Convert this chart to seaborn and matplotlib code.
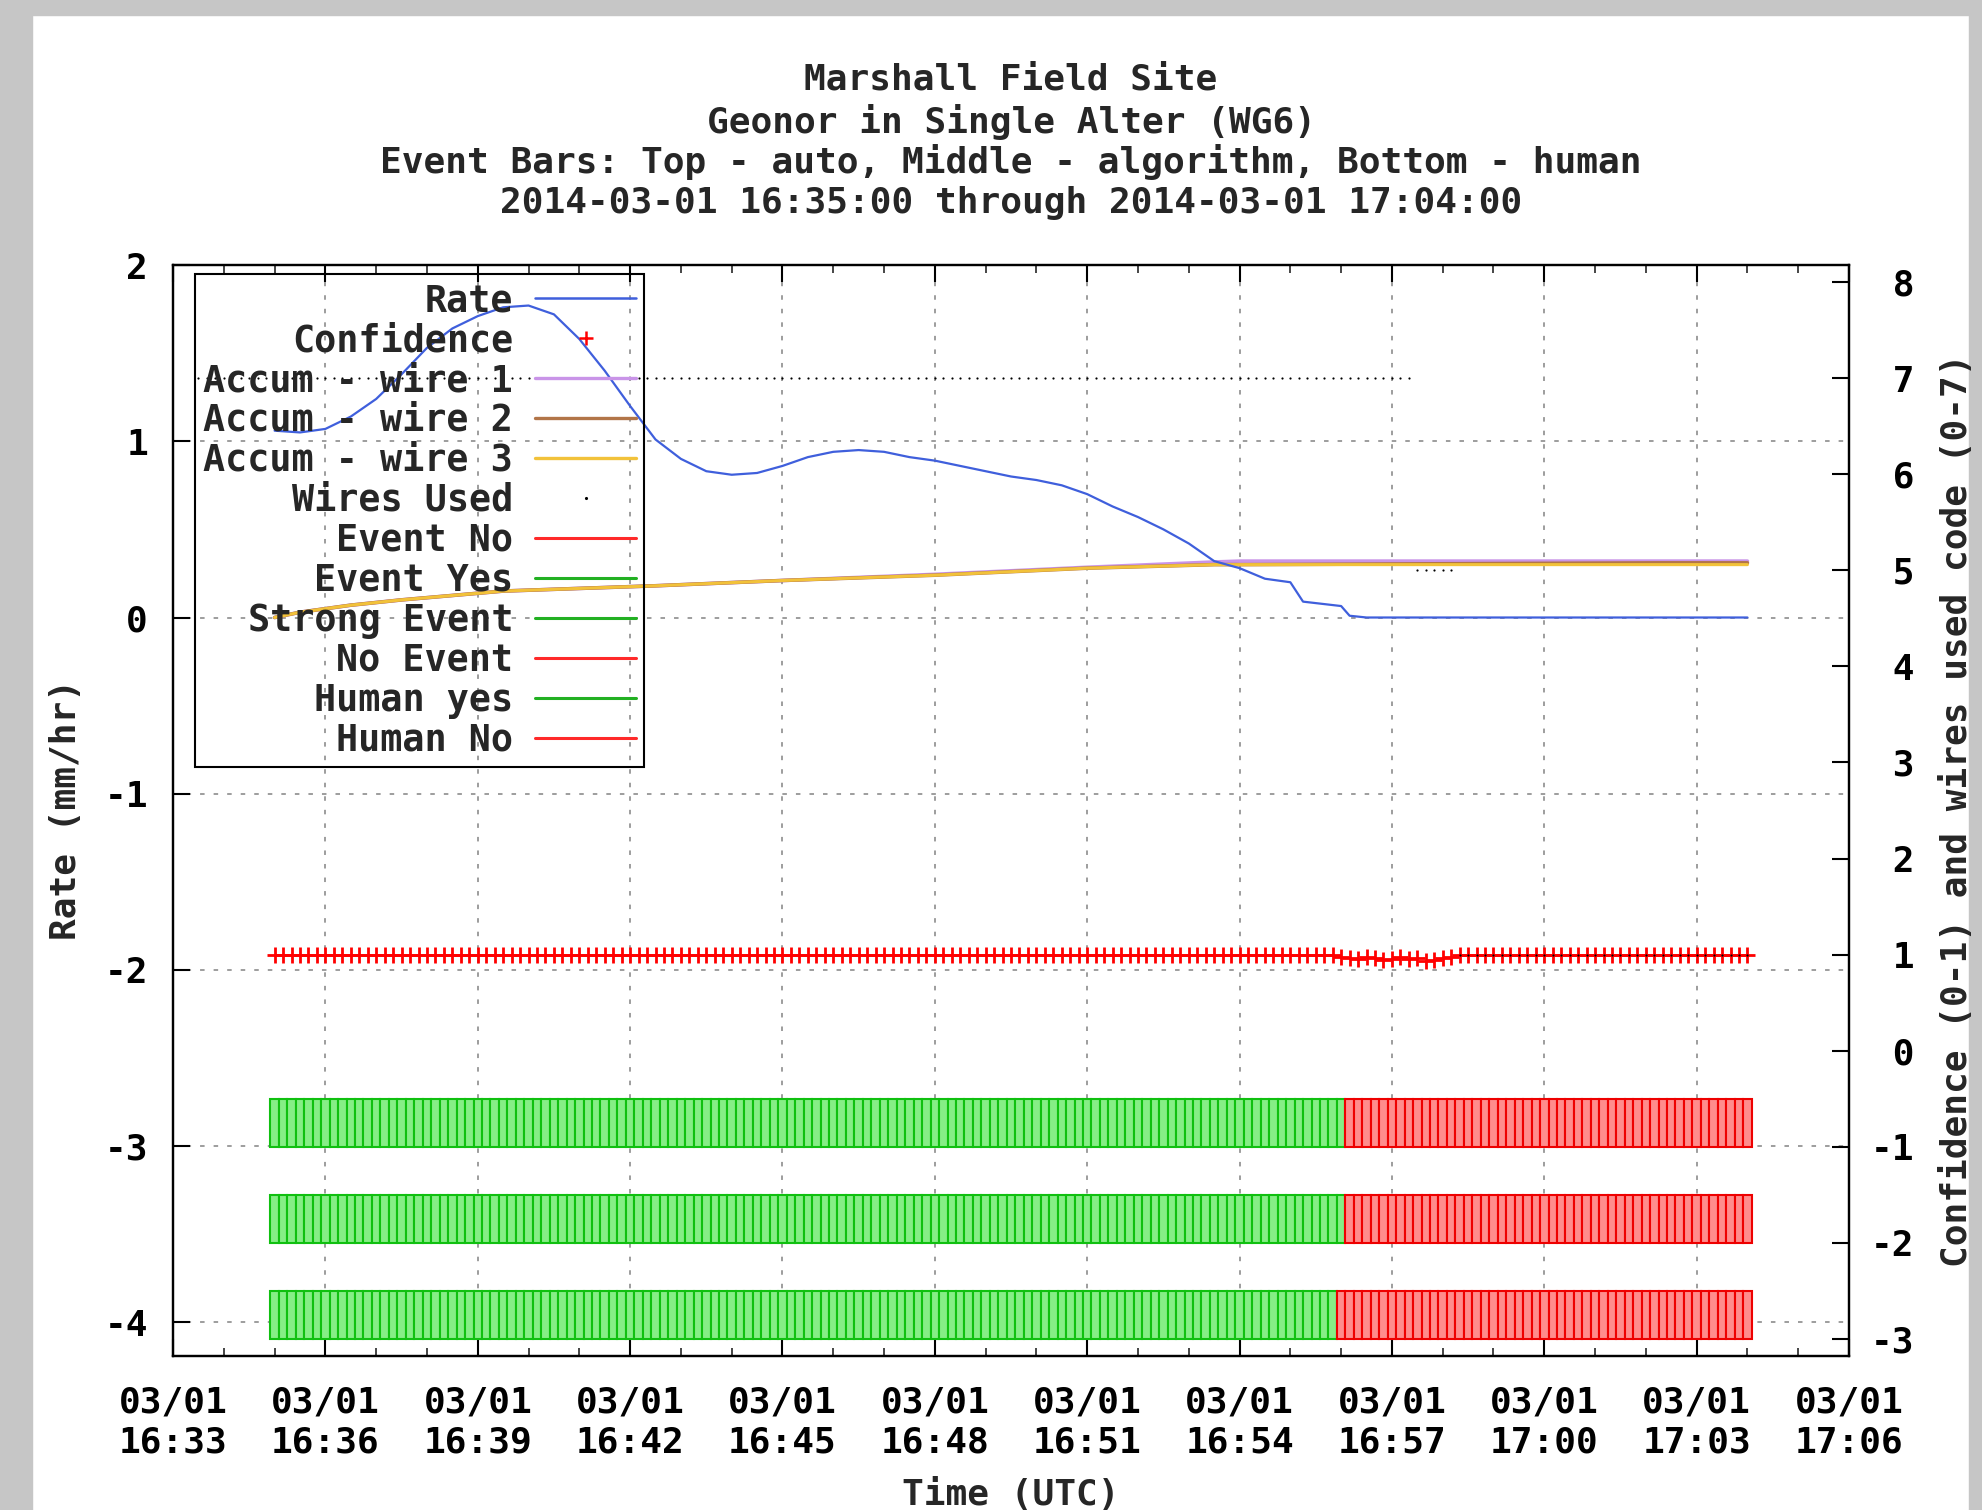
import numpy as np
import pandas as pd
import matplotlib
matplotlib.use("Agg")
import matplotlib.pyplot as plt
import matplotlib.dates as mdates
from matplotlib.lines import Line2D
from matplotlib.patches import Rectangle
import seaborn as sns

DAY = "2014-03-01 "

# ---------------- data ----------------
title_lines = [
    "Marshall Field Site",
    "Geonor in Single Alter (WG6)",
    "Event Bars: Top - auto, Middle - algorithm, Bottom - human",
    "2014-03-01 16:35:00 through 2014-03-01 17:04:00",
]

rate_times = ["16:35:00", "16:35:30", "16:36:00", "16:36:30", "16:37:00", "16:37:30",
              "16:38:00", "16:38:30", "16:39:00", "16:39:30", "16:40:00", "16:40:30",
              "16:41:00", "16:41:30", "16:42:00", "16:42:30", "16:43:00", "16:43:30",
              "16:44:00", "16:44:30", "16:45:00", "16:45:30", "16:46:00", "16:46:30",
              "16:47:00", "16:47:30", "16:48:00", "16:48:30", "16:49:00", "16:49:30",
              "16:50:00", "16:50:30", "16:51:00", "16:51:30", "16:52:00", "16:52:30",
              "16:53:00", "16:53:30", "16:54:00", "16:54:30", "16:55:00", "16:55:15",
              "16:56:00", "16:56:10", "16:56:30", "17:04:00"]
rate_values = [1.06, 1.05, 1.07, 1.14, 1.24, 1.38,
               1.53, 1.64, 1.71, 1.76, 1.77, 1.72,
               1.58, 1.40, 1.20, 1.01, 0.90, 0.83,
               0.81, 0.82, 0.86, 0.91, 0.94, 0.95,
               0.94, 0.91, 0.89, 0.86, 0.83, 0.80,
               0.78, 0.75, 0.70, 0.63, 0.57, 0.50,
               0.42, 0.32, 0.28, 0.22, 0.20, 0.09,
               0.065, 0.01, 0.0, 0.0]

accum_times = ["16:35:00", "16:35:30", "16:36:30", "16:37:30", "16:39:30", "16:42:30",
               "16:45:00", "16:48:00", "16:51:00", "16:53:30", "16:54:00", "17:02:20",
               "17:04:00"]
accum_wire1 = [0.00, 0.03, 0.07, 0.10, 0.15, 0.18, 0.21, 0.245, 0.285, 0.315, 0.32, 0.32, 0.32]
accum_wire2 = [0.00, 0.03, 0.07, 0.10, 0.15, 0.18, 0.21, 0.24, 0.28, 0.30, 0.30, 0.31, 0.31]
accum_wire3 = [0.00, 0.03, 0.07, 0.10, 0.15, 0.18, 0.21, 0.24, 0.28, 0.30, 0.30, 0.30, 0.30]

# confidence every 10 s from 16:35:00 to 17:04:00
conf_start, conf_end = "16:35:00", "17:04:00"
confidence = ([1.0] * 126
              + [0.97, 0.96, 0.95, 0.97, 0.96, 0.94, 0.95, 0.97, 0.95, 0.96, 0.93, 0.94, 0.96, 0.97]
              + [1.0] * 35)

# wires used code every 10 s from 16:33:30 to 17:04:00
wires_start, wires_end = "16:33:30", "17:04:00"
wires_used = [7] * 144 + [5] * 5 + [1] * 35

# event bars every 10 s from 16:35:00 to 17:04:00 (runs of yes / no)
bar_start, bar_end = "16:35:00", "17:04:00"
auto_runs = [("yes", 127), ("no", 48)]
algo_runs = [("yes", 127), ("no", 48)]
human_runs = [("yes", 126), ("no", 49)]
bar_rows = [(-1.0, auto_runs), (-2.0, algo_runs), (-3.0, human_runs)]

legend_labels = ["Rate", "Confidence", "Accum - wire 1", "Accum - wire 2", "Accum - wire 3",
                 "Wires Used", "Event No", "Event Yes", "Strong Event", "No Event",
                 "Human yes", "Human No"]

# ---------------- styling ----------------
sns.set_theme(style="white")
plt.rcParams['font.family'] = ['DejaVu Sans Mono', 'DejaVu Sans']
plt.rcParams['font.weight'] = 'bold'
plt.rcParams['font.size'] = 26
plt.rcParams['axes.unicode_minus'] = False

FS = 26
rate_color = "#3f5fdc"
wire1_color = "#c994e8"
wire2_color = "#b27548"
wire3_color = "#f2c23a"
conf_color = "#ff0000"
leg_red = "#ff2a2a"
leg_green = "#22b022"
green_face, green_edge = "#86ee86", "#10c010"
red_face, red_edge = "#ff8c8c", "#ee0000"

fig = plt.figure(figsize=(19.82, 15.10), dpi=100)
fig.patch.set_facecolor("white")
ax = fig.add_axes([0.0873, 0.1020, 0.8456, 0.7225])
ax2 = ax.twinx()

# grey screenshot border
for (x0, y0, w, h) in [(0, 0, 32 / 1982, 1), (0, 1 - 15 / 1510, 1, 15 / 1510),
                       (1969 / 1982, 0, 13 / 1982, 1)]:
    fig.patches.append(Rectangle((x0, y0), w, h, transform=fig.transFigure,
                                 color="#c6c6c6", zorder=-10))

# ----- left axis: rate and accumulations -----
df_rate = pd.DataFrame({"time": pd.to_datetime([DAY + t for t in rate_times]),
                        "rate": rate_values})
df_acc = pd.DataFrame({"time": pd.to_datetime([DAY + t for t in accum_times]),
                       "w1": accum_wire1, "w2": accum_wire2, "w3": accum_wire3})

sns.lineplot(data=df_acc, x="time", y="w1", ax=ax, color=wire1_color, lw=2.6,
             estimator=None, legend=False, zorder=3)
sns.lineplot(data=df_acc, x="time", y="w2", ax=ax, color=wire2_color, lw=2.6,
             estimator=None, legend=False, zorder=4)
sns.lineplot(data=df_acc, x="time", y="w3", ax=ax, color=wire3_color, lw=2.2,
             estimator=None, legend=False, zorder=5)
sns.lineplot(data=df_rate, x="time", y="rate", ax=ax, color=rate_color, lw=1.6,
             estimator=None, legend=False, zorder=6)

# ----- right axis: confidence, wires used, event bars -----
conf_times = pd.date_range(DAY + conf_start, DAY + conf_end, freq="10s")
wires_times = pd.date_range(DAY + wires_start, DAY + wires_end, freq="10s")
bar_times = pd.date_range(DAY + bar_start, DAY + bar_end, freq="10s")

for bottom, runs in bar_rows:
    faces, edges = [], []
    for state, n in runs:
        faces += [green_face if state == "yes" else red_face] * n
        edges += [green_edge if state == "yes" else red_edge] * n
    ax2.bar(bar_times, 0.5, bottom=bottom, width=10 / 86400, color=faces,
            edgecolor=edges, linewidth=1.5, align="center", zorder=2)

ax2.plot(conf_times, confidence, ls="none", marker="+", ms=12, mew=2.0,
         color=conf_color, zorder=4)
sns.scatterplot(x=wires_times, y=wires_used, ax=ax2, marker=".", s=10,
                color="black", linewidth=0, zorder=5, legend=False)

# ----- axes, ticks, grid -----
ax.set_xlim(pd.Timestamp(DAY + "16:33:00"), pd.Timestamp(DAY + "17:06:00"))
ax.set_ylim(-4.19, 2.0)
ax2.set_ylim(-3.18, 8.18)

ax.xaxis.set_major_locator(mdates.MinuteLocator(byminute=range(0, 60, 3)))
ax.xaxis.set_minor_locator(mdates.MinuteLocator())
ax.xaxis.set_major_formatter(mdates.DateFormatter("%m/%d\n%H:%M"))
ax.set_yticks(range(-4, 3))
ax.set_yticklabels([str(v) for v in range(-4, 3)])
ax2.set_yticks(range(-3, 9))
ax2.set_yticklabels([f"{v:2d}" for v in range(-3, 9)])

ax.tick_params(axis="x", which="major", direction="in", length=12, width=1.5,
               top=True, bottom=True, labelsize=FS, pad=21, colors="black")
ax.tick_params(axis="x", which="minor", direction="in", length=6, width=1.2,
               top=True, bottom=True)
ax.tick_params(axis="y", which="major", direction="in", length=12, width=1.5,
               left=True, right=False, labelsize=FS, pad=18, colors="black")
ax2.tick_params(axis="y", which="major", direction="in", length=12, width=1.5,
                right=True, left=False, labelsize=FS, pad=16, colors="black")
for lbl in ax.get_xticklabels():
    lbl.set_linespacing(1.22)

ax.grid(True, which="major", axis="both", color="#959595",
        linestyle=(0, (2.5, 5)), linewidth=1.3)
ax.set_axisbelow(True)
for a in (ax, ax2):
    for sp in a.spines.values():
        sp.set_color("black")
        sp.set_linewidth(1.6)
        sp.set_visible(True)

ax.set_xlabel("")
ax.set_ylabel("")
ax2.set_ylabel("")

# ----- legend -----
handles = [
    Line2D([], [], color=rate_color, lw=1.8),
    Line2D([], [], color=conf_color, ls="none", marker="+", ms=10, mew=1.8),
    Line2D([], [], color=wire1_color, lw=2.4),
    Line2D([], [], color=wire2_color, lw=2.4),
    Line2D([], [], color=wire3_color, lw=2.4),
    Line2D([], [], color="black", ls="none", marker=".", ms=2.5),
    Line2D([], [], color=leg_red, lw=2.2),
    Line2D([], [], color=leg_green, lw=2.2),
    Line2D([], [], color=leg_green, lw=2.2),
    Line2D([], [], color=leg_red, lw=2.2),
    Line2D([], [], color=leg_green, lw=2.2),
    Line2D([], [], color=leg_red, lw=2.2),
]
leg = ax2.legend(handles, legend_labels, loc="upper left",
                 bbox_to_anchor=(0.0985, 0.8185), bbox_transform=fig.transFigure,
                 markerfirst=False, frameon=True, fancybox=False, shadow=False,
                 edgecolor="black", facecolor="none", framealpha=1,
                 handlelength=2.75, handletextpad=0.6, labelspacing=0.08,
                 borderpad=0.22, borderaxespad=0,
                 prop={"family": "DejaVu Sans Mono", "weight": "bold", "size": 26.5})
leg.get_frame().set_linewidth(1.5)
leg.set_zorder(10)

# ----- titles and axis labels -----
for txt, yf in zip(title_lines, [0.9475, 0.9195, 0.8925, 0.8655]):
    fig.text(0.5101, yf, txt, ha="center", va="center", fontsize=FS, fontweight="bold")
fig.text(0.0333, 0.4636, "Rate (mm/hr)", rotation=90, ha="center", va="center",
         fontsize=FS, fontweight="bold")
fig.text(0.9874, 0.4636, "Confidence (0-1) and wires used code (0-7)", rotation=90,
         ha="center", va="center", fontsize=FS, fontweight="bold")
fig.text(0.5101, 0.0215, "Time (UTC)", ha="center", va="top", fontsize=FS,
         fontweight="bold")

fig.savefig("out.png", dpi=100)
